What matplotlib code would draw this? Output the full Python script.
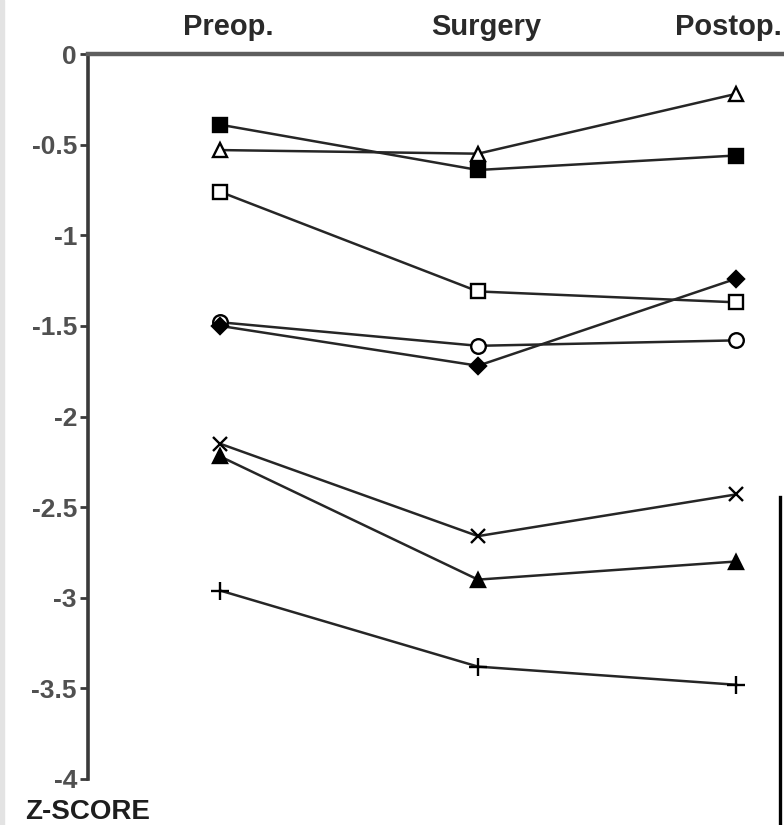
import matplotlib
matplotlib.use('Agg')
import matplotlib.pyplot as plt
from matplotlib.lines import Line2D
from matplotlib.patches import Rectangle
import matplotlib.transforms as mtransforms

plt.rcParams['font.family'] = ['Liberation Sans', 'DejaVu Sans']

# time points along the top
phases = ['Preop.', 'Surgery', 'Postop.']

# z-score per patient group
filled_square = [-0.39, -0.64, -0.56]
open_triangle = [-0.53, -0.55, -0.22]
open_square = [-0.76, -1.31, -1.37]
open_circle = [-1.48, -1.61, -1.58]
filled_diamond = [-1.50, -1.72, -1.24]
cross_x = [-2.15, -2.66, -2.43]
filled_triangle = [-2.22, -2.90, -2.80]
plus = [-2.96, -3.38, -3.48]

y_ticks = [0, -0.5, -1, -1.5, -2, -2.5, -3, -3.5, -4]
y_labels = ['0', '-0.5', '-1', '-1.5', '-2', '-2.5', '-3', '-3.5', '-4']

W, H = 784, 825
fig = plt.figure(figsize=(W / 100, H / 100), dpi=100)
ax = fig.add_axes([88 / W, 1 - 779 / H, 1 - 88 / W, (779 - 54) / H])

x = list(range(len(phases)))
line_col = '#262626'
series = [
    (filled_square, dict(marker='s', mfc='black', ms=9.5)),
    (open_triangle, dict(marker='^', mfc='white', ms=10.5)),
    (open_square, dict(marker='s', mfc='white', ms=9.5)),
    (open_circle, dict(marker='o', mfc='white', ms=10.5)),
    (filled_diamond, dict(marker='D', mfc='black', ms=8.5)),
    (cross_x, dict(marker='x', mfc='none', ms=10.5)),
    (filled_triangle, dict(marker='^', mfc='black', ms=10.5)),
    (plus, dict(marker='+', mfc='none', ms=13)),
]
for vals, style in series:
    ax.plot(x, vals, color=line_col, lw=1.8, mec='black', mew=1.7,
            clip_on=False, **style)

ax.set_xlim(-132 / 258, 2 + 48 / 258)
ax.set_ylim(-4, 0)

ax.spines['right'].set_visible(False)
ax.spines['bottom'].set_visible(False)
ax.spines['left'].set_color('#3a3a3a')
ax.spines['left'].set_linewidth(2.6)
ax.spines['top'].set_color('#5e5e5e')
ax.spines['top'].set_linewidth(3.2)

ax.set_xticks([])
ax.set_yticks(y_ticks)
ax.set_yticklabels(y_labels, fontsize=19, fontweight='bold', color='#505050')
ax.tick_params(axis='y', length=6, width=2, color='#3a3a3a', pad=2)

# phase labels above the top line; the last one is pushed against the edge
trans = mtransforms.blended_transform_factory(ax.transData, fig.transFigure)
for i, name in enumerate(phases[:-1]):
    ax.text(i + 8 / 258, 1 - 27 / H, name, transform=trans, ha='center',
            va='center', fontsize=21, fontweight='bold', color='#2a2a2a')
fig.text(1 - 2 / W, 1 - 27 / H, phases[-1], ha='right', va='center',
         fontsize=21, fontweight='bold', color='#2a2a2a')

fig.text(25 / W, 1 - 812 / H, 'Z-SCORE', ha='left', va='center',
         fontsize=20, fontweight='bold', color='#1e1e1e')

# scan edges: grey strip on the left, black rule on the right
fig.patches.append(Rectangle((0, 0), 4 / W, 1, transform=fig.transFigure,
                             color='#e3e3e3', zorder=0))
fig.lines.append(Line2D([780 / W, 780 / W], [0, 1 - 497 / H],
                        transform=fig.transFigure, color='black', lw=2.4))

fig.savefig('out.png', dpi=100)
